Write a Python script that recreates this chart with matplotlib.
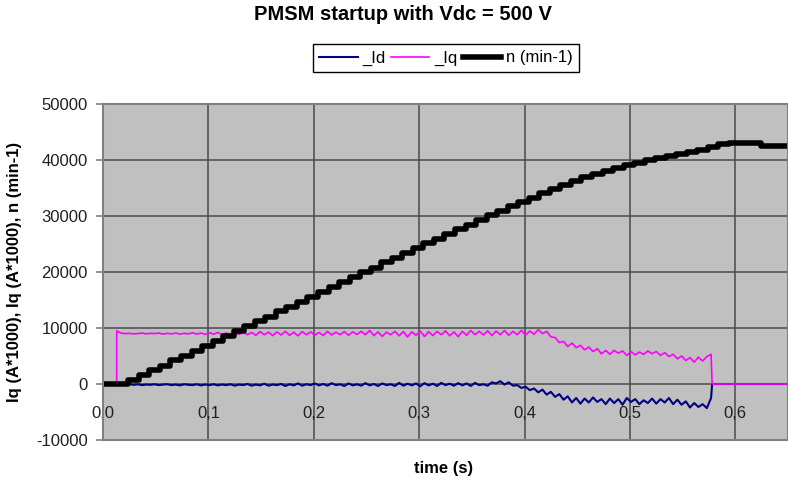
import numpy as np
import matplotlib
matplotlib.use("Agg")
import matplotlib.pyplot as plt

plt.rcParams["font.family"] = ["Liberation Sans", "DejaVu Sans"]
plt.rcParams["axes.unicode_minus"] = False

TITLE = "PMSM startup with Vdc = 500 V"
Y_LABEL = "Iq (A*1000), Iq (A*1000), n (min-1)"
X_LABEL = "time (s)"
X_TICKS = [0.0, 0.1, 0.2, 0.3, 0.4, 0.5, 0.6]
X_TICK_LABELS = ["0,0", "0,1", "0,2", "0,3", "0,4", "0,5", "0,6"]
Y_TICKS = [-10000, 0, 10000, 20000, 30000, 40000, 50000]
T_END = 0.65

# speed n (min-1), sampled every 10 ms starting at the first step
N_T0 = 0.024
N_DT = 0.01
N_VALUES = [
    700, 1550, 2450, 3300, 4200, 5050, 5950, 6800, 7700, 8550,
    9450, 10300, 11200, 12050, 12950, 13800, 14700, 15550, 16450, 17300,
    18200, 19050, 19950, 20800, 21700, 22550, 23400, 24250, 25100, 25950,
    26800, 27650, 28450, 29300, 30100, 30950, 31750, 32550, 33300, 34050,
    34800, 35500, 36200, 36900, 37500, 38100, 38600, 39100, 39550, 39950,
    40350, 40750, 41100, 41450, 41800, 42300, 42800, 43000, 43000, 43000,
    42500, 42500, 42500,
]

# currents (A*1000), read every 4 ms while the inverter is on
CUR_ON = 0.013
CUR_OFF = 0.578
CUR_DT = 0.004
IQ_VALUES = [
    9500, 9100, 9000, 9050, 8950, 9000, 9100, 8950, 9050, 9000,
    9100, 8900, 9050, 8950, 9100, 8900, 9050, 8950, 9150, 8900,
    9100, 8850, 9150, 8900, 9200, 8850, 9100, 8800, 9250, 8850,
    9300, 8800, 9200, 8700, 9350, 8800, 9250, 8650, 9300, 8750,
    9400, 8700, 9250, 8600, 9350, 8800, 9300, 8700, 9200, 8650,
    9400, 8750, 9250, 8800, 9350, 8700, 9300, 8850, 9400, 8800,
    9550, 8650, 9300, 8500, 9250, 8800, 9400, 8600, 9350, 8400,
    9300, 8700, 9450, 8500, 9350, 8650, 9400, 8800, 9500, 8600,
    9300, 8450, 9400, 8700, 9550, 8800, 9400, 8750, 9500, 8650,
    9450, 8800, 9550, 8700, 9400, 8800, 9600, 8750, 9450, 8900,
    9700, 9000, 9400, 8400, 8300, 7400, 7600, 6700, 7300, 6500,
    6900, 6100, 6600, 5800, 6300, 5400, 6000, 5300, 6000, 5500,
    5900, 5100, 5800, 5200, 5700, 5300, 5900, 5400, 5800, 5100,
    5600, 4900, 5300, 4500, 5000, 4200, 4700, 3900, 4800, 4100,
    4900, 5300,
]
ID_VALUES = [
    0, 0, 0, 0, -150, -50, -200, -100, -150, -50,
    -200, -100, -50, -200, -100, -250, -50, -150, -200, -50,
    -250, -100, -200, -50, -250, -100, -200, -50, -300, -100,
    -200, 0, -300, -100, -250, 50, -300, -100, -200, 0,
    -350, -50, -250, 100, -300, -50, -200, 100, -250, 0,
    -300, 150, -200, -50, -350, 100, -250, -50, -300, 150,
    -250, 0, -350, 100, -200, -50, -350, 200, -300, 50,
    -250, 100, -400, 150, -250, 50, -350, 200, -200, 50,
    -300, 150, -250, 100, -350, 200, -200, -50, -300, 300,
    100, 500, -100, 300, -300, -200, -700, -500, -1100, -800,
    -1500, -1000, -1900, -1400, -2300, -1800, -2800, -2200, -3300, -2500,
    -3500, -2600, -3300, -2400, -3200, -2700, -3600, -2600, -3400, -2700,
    -3700, -2500, -3200, -2700, -3600, -2900, -3400, -2600, -3500, -2700,
    -3300, -2500, -3600, -2800, -3700, -3100, -4200, -3400, -4100, -3600,
    -4300, -2500,
]


def current_trace(values):
    t = CUR_ON + CUR_DT * np.arange(len(values))
    t = np.concatenate([[0.0, CUR_ON], t, [CUR_OFF, T_END]])
    v = np.concatenate([[0, 0], values, [0, 0]])
    return t, v


def speed_trace():
    t = N_T0 + N_DT * np.arange(len(N_VALUES))
    t = np.concatenate([[0.0], t, [T_END]])
    v = np.concatenate([[0], N_VALUES, [N_VALUES[-1]]])
    return t, v


fig = plt.figure(figsize=(7.88, 4.84), dpi=100)
ax = fig.add_axes([103 / 788, 44 / 484, 685 / 788, 336 / 484])
ax.set_facecolor("#c0c0c0")

t_id, v_id = current_trace(ID_VALUES)
t_iq, v_iq = current_trace(IQ_VALUES)
t_n, v_n = speed_trace()
h_id, = ax.plot(t_id, v_id, color="#000080", lw=1.5, zorder=3)
h_iq, = ax.plot(t_iq, v_iq, color="#ff00ff", lw=1.2, zorder=4)
h_n, = ax.plot(t_n, v_n, color="black", lw=4, drawstyle="steps-post", zorder=5)

ax.set_xlim(0, T_END)
ax.set_ylim(-10000, 50000)
ax.set_xticks(X_TICKS)
ax.set_xticklabels(X_TICK_LABELS)
ax.set_yticks(Y_TICKS)
ax.grid(True, color="#4a4a4a", lw=1.1)
ax.set_axisbelow(True)

# x labels sit under the zero line, like Excel's crossing axis
ax.spines["bottom"].set_position(("data", 0))
ax.spines["bottom"].set_visible(False)
for s in ("top", "right", "left"):
    ax.spines[s].set_visible(False)
ax.add_patch(plt.Rectangle((0, 0), 1, 1, transform=ax.transAxes, fill=False,
                           edgecolor="#808080", lw=1.5, clip_on=False, zorder=6))
ax.tick_params(axis="x", length=0, pad=16, labelsize=12, labelcolor="#202020")
ax.tick_params(axis="y", length=5, color="#808080", width=1.2, pad=6,
               labelsize=12, labelcolor="#202020")

fig.text(403 / 788, 1 - 14 / 484, TITLE, ha="center", va="center",
         fontsize=14.5, fontweight="bold")
fig.text(15 / 788, 1 - 272 / 484, Y_LABEL, ha="center", va="center",
         rotation=90, fontsize=12, fontweight="bold")
fig.text(444 / 788, 1 - 468 / 484, X_LABEL, ha="center", va="center",
         fontsize=12, fontweight="bold")

leg = fig.legend([h_id, h_iq, h_n], ["_Id", "_Iq", "n (min-1)"], loc="center",
                 bbox_to_anchor=(446 / 788, 1 - 58 / 484), ncol=3, fontsize=12,
                 frameon=True, fancybox=False, edgecolor="black", framealpha=1,
                 handlelength=2.3, handletextpad=0.3, columnspacing=0.3,
                 borderpad=0.4)
leg.get_frame().set_linewidth(1.0)

fig.savefig("out.png", dpi=100)
